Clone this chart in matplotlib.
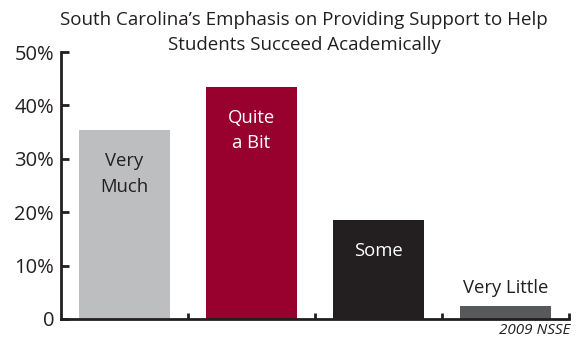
import matplotlib.pyplot as plt

plt.rcParams['font.family'] = ['Open Sans', 'DejaVu Sans']

categories = ['Very\nMuch', 'Quite\na Bit', 'Some', 'Very Little']
values = [35.4, 43.5, 18.5, 2.5]
colors = ['#bcbec0', '#98002e', '#231f20', '#58595b']
label_colors = ['#231f20', 'white', 'white', '#231f20']
yticks = [0, 10, 20, 30, 40, 50]
ytick_labels = ['0', '10%', '20%', '30%', '40%', '50%']

fig = plt.figure(figsize=(5.79, 3.37), dpi=100)
ax = fig.add_axes([61 / 579, 18 / 337, 508 / 579, 267 / 337])

x = [i + 0.5 for i in range(len(values))]
ax.bar(x, values, width=0.72, color=colors)

for i, (xi, v) in enumerate(zip(x, values)):
    if v > 10:
        ax.text(xi, v - 4.1, categories[i], ha='center', va='top', fontsize=13.3,
                color=label_colors[i], linespacing=1.55)
    else:
        ax.text(xi, v + 1.7, categories[i], ha='center', va='bottom', fontsize=13.3,
                color=label_colors[i])

ax.set_xlim(0, 4)
ax.set_ylim(0, 50)
ax.set_yticks(yticks)
ax.set_yticklabels(ytick_labels, fontsize=14.5, color='#231f20')
ax.set_xticks([1, 2, 3, 4])
ax.set_xticklabels([])
ax.tick_params(axis='y', direction='in', length=6, width=2, color='#231f20', pad=5)
ax.tick_params(axis='x', direction='in', length=4, width=2, color='#231f20')

for s in ['top', 'right']:
    ax.spines[s].set_visible(False)
for s in ['left', 'bottom']:
    ax.spines[s].set_linewidth(2)
    ax.spines[s].set_color('#231f20')

fig.text(0.525, 0.968, "South Carolina\u2019s Emphasis on Providing Support to Help\nStudents Succeed Academically",
         ha='center', va='top', fontsize=13.5, color='#231f20', linespacing=1.5)
fig.text(570 / 579, 7 / 337, '2009 NSSE', ha='right', va='center', fontsize=11,
         style='italic', color='#231f20')

fig.savefig('out.png', dpi=100)
